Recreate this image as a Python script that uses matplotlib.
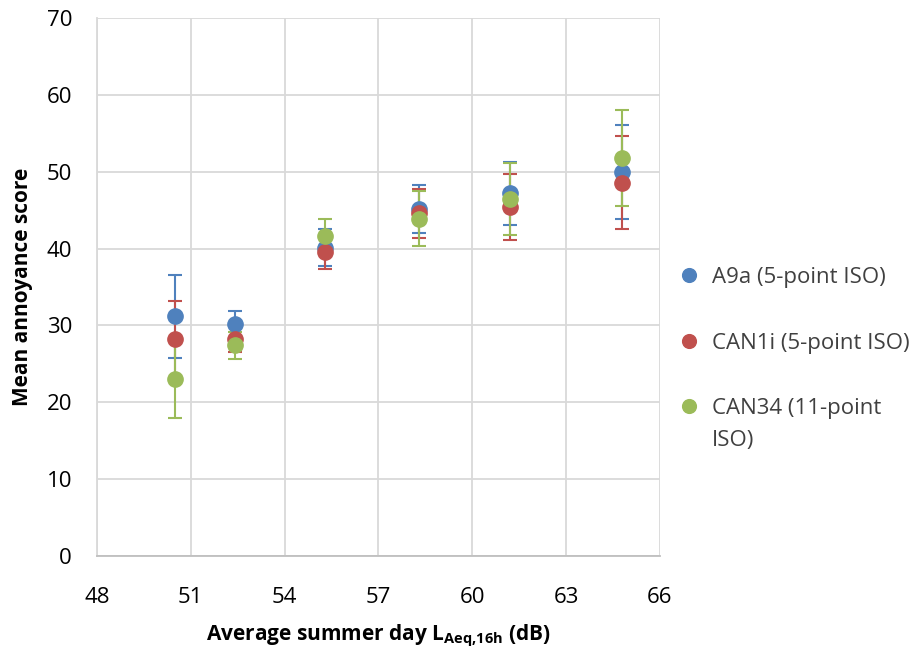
import matplotlib
matplotlib.use("Agg")
import matplotlib.pyplot as plt

plt.rcParams['font.family'] = ['Open Sans', 'DejaVu Sans']
plt.rcParams['mathtext.fontset'] = 'custom'
plt.rcParams['mathtext.bf'] = 'Open Sans:bold'
plt.rcParams['mathtext.rm'] = 'Open Sans'

x_vals = [50.5, 52.4, 55.3, 58.3, 61.2, 64.8]

a9a_mean = [31.2, 30.2, 40.1, 45.2, 47.2, 50.0]
a9a_err = [5.4, 1.7, 2.4, 3.1, 4.1, 6.1]

can1i_mean = [28.2, 28.2, 39.5, 44.6, 45.4, 48.6]
can1i_err = [5.0, 1.6, 2.2, 3.2, 4.3, 6.0]

can34_mean = [23.1, 27.4, 41.6, 43.9, 46.5, 51.8]
can34_err = [5.2, 1.7, 2.3, 3.6, 4.7, 6.2]

series = [
    ('A9a (5-point ISO)', a9a_mean, a9a_err, '#4F81BD'),
    ('CAN1i (5-point ISO)', can1i_mean, can1i_err, '#C0504D'),
    ('CAN34 (11-point', can34_mean, can34_err, '#9BBB59'),
]

fig = plt.figure(figsize=(9.24, 6.47), dpi=100)
ax = fig.add_axes([0.105, 0.1406, 0.609, 0.8314])

for label, m, e, c in series:
    ax.errorbar(x_vals, m, yerr=e, fmt='none', ecolor=c, elinewidth=1.5,
                capsize=5, capthick=1.5, zorder=2)
for label, m, e, c in series:
    ax.plot(x_vals, m, 'o', color=c, markersize=11, label=label, zorder=3)

ax.set_xlim(48, 66)
ax.set_ylim(0, 70)
ax.set_xticks(range(48, 67, 3))
ax.set_yticks(range(0, 71, 10))
ax.grid(True, color='#d9d9d9', lw=1.3)
ax.set_axisbelow(True)
ax.tick_params(length=0, labelsize=16, colors='black')
ax.tick_params(axis='x', pad=22)
ax.tick_params(axis='y', pad=18)
for s in ['top', 'right']:
    ax.spines[s].set_visible(False)
ax.spines['left'].set_color('#d9d9d9')
ax.spines['bottom'].set_color('#bfbfbf')
ax.spines['left'].set_linewidth(1.3)
ax.spines['bottom'].set_linewidth(1.3)

ax.set_ylabel('Mean annoyance score', fontsize=15, fontweight='bold')
ax.set_xlabel(r'Average summer day L$_{\mathbf{Aeq{,}16h}}$ (dB)', fontsize=15,
              fontweight='bold')
ax.yaxis.set_label_coords(-0.114, 0.5)
ax.xaxis.set_label_coords(0.5, -0.124)

leg = ax.legend(loc='center left', bbox_to_anchor=(1.037, 0.396), frameon=False,
                fontsize=16, handlelength=0.8, handletextpad=0.6,
                labelspacing=2.0, borderpad=0, borderaxespad=0,
                markerscale=0.9)
for t in leg.get_texts():
    t.set_color('#404040')
# second line of the last legend label (drawn after the legend)
ax.annotate('ISO)', xy=(0, 0), xycoords=leg.get_texts()[2],
            xytext=(0, -32), textcoords='offset pixels',
            fontsize=16, color='#404040', ha='left', va='bottom',
            zorder=6, annotation_clip=False)

fig.savefig('out.png', dpi=100)
